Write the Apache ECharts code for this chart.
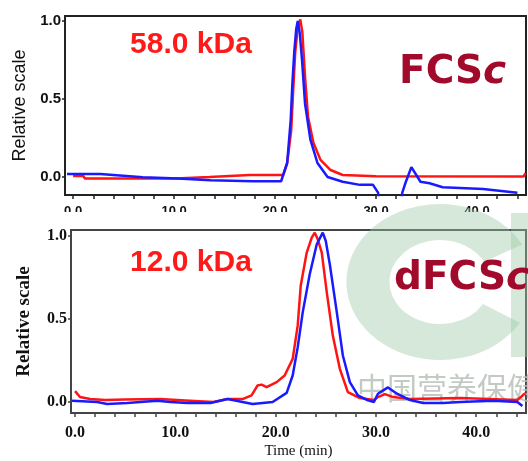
<!DOCTYPE html>
<html>
<head>
<meta charset="utf-8">
<script src="https://cdn.jsdelivr.net/npm/echarts@6.0.0/dist/echarts.min.js"></script>
<style>
  html, body { margin: 0; padding: 0; background: #fff; }
  #main { width: 528px; height: 461px; }
</style>
</head>
<body>
<div id="main"></div>
<script>
// FCSc panel (58.0 kDa), time in min / relative scale
var fcsRedTime  = [0.0, 1.0, 1.2, 10.2, 13.5, 17.5, 20.8, 21.2, 21.6, 21.8, 22.0, 22.25, 22.5, 22.7, 22.97, 23.27, 23.8, 24.5, 25.5, 26.7, 30.0, 44.6, 44.8];
var fcsRed      = [0.006, 0.006, -0.01, -0.01, 0.0, 0.013, 0.013, 0.09, 0.30, 0.56, 0.8, 0.96, 1.01, 0.93, 0.64, 0.385, 0.22, 0.11, 0.045, 0.013, 0.005, 0.003, 0.025];
var fcsBlueTime = [-0.6, 2.7, 2.8, 6.9, 10.4, 13.6, 17.8, 20.6, 21.2, 21.55, 21.7, 21.9, 22.1, 22.25, 22.45, 22.67, 22.97, 23.5, 24.2, 25.2, 26.7, 28.4, 29.7, 30.2, 30.5, 32.3, 32.6, 32.9, 33.5, 34.4, 35.3, 36.6, 40.6, 44.0];
var fcsBlue     = [0.02, 0.02, 0.008, -0.002, -0.01, -0.02, -0.027, -0.027, 0.09, 0.365, 0.58, 0.8, 0.95, 1.0, 0.92, 0.75, 0.47, 0.24, 0.09, 0.0, -0.03, -0.05, -0.05, -0.1, -0.25, -0.25, -0.1, -0.04, 0.064, -0.03, -0.04, -0.065, -0.077, -0.1];

// dFCSc panel (12.0 kDa)
var dfcsRedTime  = [0.0, 0.5, 1.5, 3.0, 5.0, 8.5, 11.0, 13.8, 15.2, 16.7, 17.6, 18.2, 18.6, 19.1, 20.1, 20.9, 21.7, 22.2, 22.5, 23.1, 23.6, 23.9, 24.2, 24.6, 25.1, 25.7, 26.4, 27.2, 28.4, 29.8, 30.2, 30.9, 31.7, 33.4, 38.4, 44.1, 44.9];
var dfcsRed      = [0.066, 0.03, 0.018, 0.012, 0.015, 0.018, 0.01, 0.0, 0.018, 0.018, 0.04, 0.1, 0.105, 0.09, 0.12, 0.16, 0.26, 0.46, 0.7, 0.9, 0.99, 1.02, 0.98, 0.9, 0.66, 0.4, 0.2, 0.06, 0.024, 0.012, 0.03, 0.048, 0.03, 0.018, 0.024, 0.012, 0.054];
var dfcsBlueTime = [-0.3, 2.2, 3.2, 5.2, 8.2, 9.5, 11.2, 13.5, 15.2, 16.7, 17.7, 19.7, 21.1, 21.7, 22.2, 22.7, 23.4, 24.1, 24.7, 25.0, 25.4, 26.1, 26.7, 27.4, 28.2, 29.2, 29.8, 30.2, 31.2, 32.1, 33.4, 34.7, 36.7, 38.4, 41.7, 44.1, 44.6];
var dfcsBlue     = [0.008, 0.0, -0.012, -0.006, 0.008, 0.0, -0.006, -0.006, 0.018, 0.0, -0.012, 0.0, 0.055, 0.16, 0.33, 0.54, 0.77, 0.95, 1.02, 0.97, 0.83, 0.54, 0.28, 0.12, 0.04, 0.01, 0.0, 0.05, 0.088, 0.05, 0.012, -0.006, -0.006, 0.0, 0.008, 0.0, -0.024];

var timeLabels = [0, 10, 20, 30, 40];
var timeTicks = [0, 2, 4, 6, 8, 10, 12, 14, 16, 18, 20, 22, 24, 26, 28, 30, 32, 34, 36, 38, 40, 42, 44];
var scaleLabels = [0, 0.5, 1.0];

function pairs(xs, ys) {
  var out = [];
  for (var i = 0; i < xs.length; i++) out.push([xs[i], ys[i]]);
  return out;
}
function oneDecimal(v) { return v.toFixed(1); }

var chart = echarts.init(document.getElementById('main'));

var sans = '"Liberation Sans", Arial, sans-serif';
var serif = '"Liberation Serif", "Times New Roman", serif';

function xAxisOf(grid, min, max, font, size, margin, boxColor) {
  return {
    gridIndex: grid, type: 'value', min: min, max: max,
    axisLine: { show: false, onZero: false },
    axisTick: { show: true, customValues: timeTicks, length: 4, lineStyle: { color: boxColor, width: 1.5 } },
    axisLabel: { customValues: timeLabels, formatter: oneDecimal, margin: margin,
      color: '#111', fontWeight: 'bold', fontFamily: font, fontSize: size },
    splitLine: { show: false }
  };
}
function yAxisOf(grid, min, max, font, size, boxColor, nameFont, nameSize, nameWeight, gap) {
  return {
    gridIndex: grid, type: 'value', min: min, max: max,
    name: 'Relative scale', nameLocation: 'middle', nameGap: gap,
    nameTextStyle: { fontFamily: nameFont, fontSize: nameSize, fontWeight: nameWeight, color: '#111' },
    axisLine: { show: false, onZero: false },
    axisTick: { show: true, customValues: scaleLabels, length: 3, lineStyle: { color: boxColor, width: 1.5 } },
    axisLabel: { customValues: scaleLabels, formatter: oneDecimal, margin: 4,
      color: '#111', fontWeight: 'bold', fontFamily: font, fontSize: size },
    splitLine: { show: false }
  };
}
function lineOf(name, x, y, data, color) {
  return {
    name: name, type: 'line', xAxisIndex: x, yAxisIndex: y,
    data: data, showSymbol: false, z: 100, clip: true,
    lineStyle: { color: color, width: 2.5 }
  };
}

var botX = xAxisOf(1, -0.4, 44.96, serif, 16, 12, '#444');
botX.name = 'Time (min)';
botX.nameLocation = 'middle';
botX.nameGap = 31;
botX.nameTextStyle = { fontFamily: serif, fontSize: 15, color: '#111' };

var option = {
  animation: false,
  backgroundColor: '#fff',
  grid: [
    { left: 65, top: 16, width: 461, height: 179, show: true, borderColor: '#222', borderWidth: 2, backgroundColor: 'transparent' },
    { left: 71, top: 230, width: 455, height: 183, show: true, borderColor: '#444', borderWidth: 2, backgroundColor: 'transparent' }
  ],
  xAxis: [
    xAxisOf(0, -0.8, 44.85, sans, 13, 10, '#222'),
    botX
  ],
  yAxis: [
    yAxisOf(0, -0.115, 1.032, sans, 15, '#222', sans, 18, 'normal', 36),
    yAxisOf(1, -0.066, 1.036, serif, 16, '#444', serif, 19, 'bold', 37)
  ],
  series: [
    lineOf('FCSc red', 0, 0, pairs(fcsRedTime, fcsRed), '#ff1414'),
    lineOf('FCSc blue', 0, 0, pairs(fcsBlueTime, fcsBlue), '#1a1aff'),
    lineOf('dFCSc red', 1, 1, pairs(dfcsRedTime, dfcsRed), '#ff1414'),
    lineOf('dFCSc blue', 1, 1, pairs(dfcsBlueTime, dfcsBlue), '#1a1aff')
  ],
  graphic: [
    // bottom panel hides the lower half of the top time labels
    { type: 'rect', z: 50, shape: { x: 0, y: 212, width: 528, height: 16 }, style: { fill: '#fff' } },
    // watermark
    { type: 'arc', z: 60, x: 440, y: 282, scaleX: 1.2,
      shape: { cx: 0, cy: 0, r: 60, startAngle: 0.55, endAngle: Math.PI * 2 - 0.5, clockwise: true },
      style: { stroke: '#9cc7a5', lineWidth: 36, fill: null, opacity: 0.42 } },
    { type: 'rect', z: 60, shape: { x: 511, y: 213, width: 17, height: 144 }, style: { fill: '#9cc7a5', opacity: 0.42 } },
    { type: 'text', z: 60, x: 357, y: 388,
      style: { text: '中国营养保健', fill: '#b9c0b9', opacity: 0.85, font: '30px "Noto Sans CJK SC"', textVerticalAlign: 'middle' } },
    // labels
    { type: 'text', z: 110, x: 191, y: 45,
      style: { text: '58.0 kDa', fill: '#ff1a1a', font: 'bold 30px "Liberation Sans", Arial', textAlign: 'center', textVerticalAlign: 'middle' } },
    { type: 'text', z: 110, x: 191, y: 263,
      style: { text: '12.0 kDa', fill: '#ff1a1a', font: 'bold 30px "Liberation Sans", Arial', textAlign: 'center', textVerticalAlign: 'middle' } },
    { type: 'text', z: 110, x: 399, y: 73,
      style: { text: '{n|FCS}{i|c}', textVerticalAlign: 'middle',
        rich: {
          n: { fontFamily: 'DejaVu Sans', fontWeight: 'bold', fontSize: 39, fill: '#a10a2b' },
          i: { fontFamily: 'DejaVu Sans', fontWeight: 'bold', fontStyle: 'italic', fontSize: 39, fill: '#a10a2b' }
        } } },
    { type: 'text', z: 110, x: 394, y: 279,
      style: { text: '{n|dFCS}{i|c}', textVerticalAlign: 'middle',
        rich: {
          n: { fontFamily: 'DejaVu Sans', fontWeight: 'bold', fontSize: 39, fill: '#a10a2b' },
          i: { fontFamily: 'DejaVu Sans', fontWeight: 'bold', fontStyle: 'italic', fontSize: 39, fill: '#a10a2b' }
        } } }
  ]
};

chart.setOption(option);
</script>
</body>
</html>
